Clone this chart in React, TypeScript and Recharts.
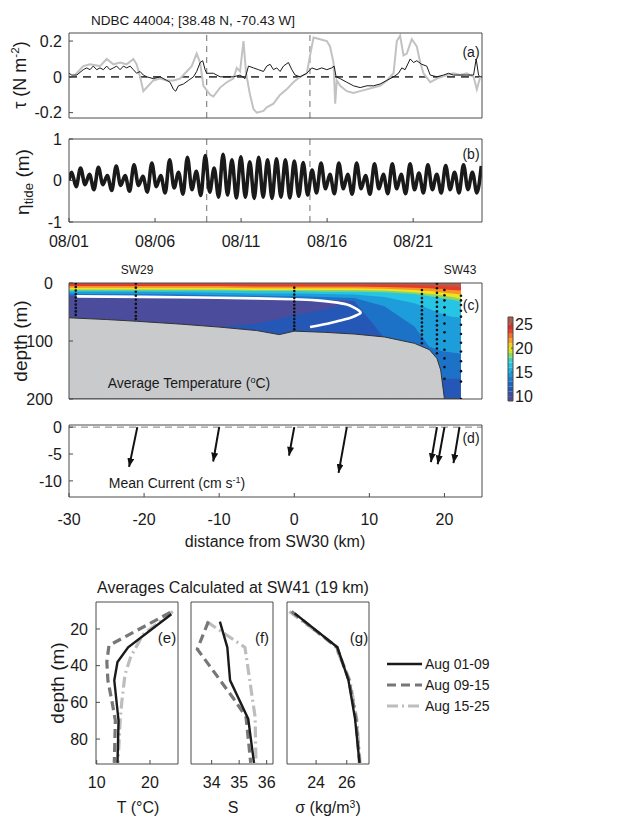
import React from 'react';
import { ComposedChart, Line, Area, Scatter, XAxis, YAxis, ReferenceLine } from 'recharts';

// ---------- (a) wind stress at NDBC 44004, days after 08/01 ----------
const dayTicks = [0, 5, 10, 15, 20];
const dayLabels = ['08/01', '08/06', '08/11', '08/16', '08/21'];
const periodBreaks = [8, 14];

const tauTicks = [-0.2, 0, 0.2];
const tauLabels = ['-0.2', '0', '0.2'];

// grey (larger) stress trace
const gDays = [0.35, 0.83, 1.22, 1.8, 2.19, 2.58, 2.97, 3.35, 3.74, 3.93, 4.13, 4.32, 4.61, 4.9, 5.29, 5.68, 6.07, 6.45, 6.84, 7.13, 7.42, 7.62, 7.81, 8.2, 8.39, 8.78, 9.17, 9.55, 9.75, 9.94, 10.14, 10.29, 10.52, 10.72, 10.91, 11.3, 11.49, 11.88, 12.27, 12.65, 13.04, 13.43, 13.82, 14.01, 14.21, 14.59, 14.98, 15.17, 15.37, 15.47, 15.56, 15.76, 16.14, 16.53, 16.92, 17.31, 17.69, 18.08, 18.47, 18.86, 19.05, 19.24, 19.44, 19.63, 19.92, 20.21, 20.41, 20.6, 20.99, 21.38, 21.96, 22.34, 22.73, 23.12, 23.51, 23.7, 23.9];
const gTau = [0.01, 0.06, 0.07, 0.06, 0.1, 0.07, 0.08, 0.07, 0.1, 0.07, 0.0, -0.08, -0.05, -0.02, -0.01, -0.02, -0.02, -0.01, 0.03, 0.06, 0.13, 0.08, -0.05, -0.1, -0.11, -0.06, -0.03, -0.01, 0.05, 0.03, 0.2, 0.02, -0.1, -0.18, -0.2, -0.19, -0.17, -0.15, -0.1, -0.07, -0.03, 0.0, 0.02, 0.12, 0.22, 0.21, 0.2, 0.17, 0.08, -0.15, -0.02, -0.05, -0.08, -0.09, -0.08, -0.07, -0.06, -0.05, -0.02, 0.02, 0.2, 0.23, 0.12, 0.13, 0.21, 0.17, 0.08, 0.02, -0.03, -0.01, 0.01, 0.02, 0.01, 0.02, 0.0, -0.07, 0.0];

// black stress trace
const bDays = [0, 0.16, 0.45, 0.83, 1.03, 1.22, 1.41, 1.61, 1.8, 2.0, 2.19, 2.38, 2.58, 2.77, 2.97, 3.16, 3.35, 3.55, 3.74, 3.93, 4.13, 4.32, 4.52, 4.9, 5.29, 5.68, 5.87, 6.07, 6.2, 6.36, 6.65, 6.94, 7.23, 7.42, 7.62, 7.77, 7.91, 8.0, 8.39, 8.78, 9.17, 9.55, 9.94, 10.23, 10.43, 10.72, 11.01, 11.3, 11.49, 11.69, 11.88, 12.07, 12.27, 12.46, 12.75, 12.95, 13.14, 13.43, 13.82, 14.11, 14.4, 14.69, 14.98, 15.27, 15.41, 15.52, 15.76, 16.14, 16.53, 16.92, 17.31, 17.69, 18.08, 18.47, 18.86, 19.15, 19.34, 19.53, 19.83, 20.02, 20.21, 20.5, 20.79, 20.99, 21.38, 21.76, 22.05, 22.34, 22.73, 23.12, 23.51, 23.66, 23.8, 23.9];
const bTau = [0.02, 0.01, 0.01, 0.04, 0.05, 0.04, 0.06, 0.04, 0.05, 0.04, 0.06, 0.04, 0.05, 0.06, 0.04, 0.06, 0.05, 0.06, 0.04, 0.02, 0.03, 0.01, 0.0, -0.01, 0.0, -0.02, -0.03, -0.07, -0.08, -0.05, -0.04, -0.02, 0.0, 0.03, 0.08, 0.09, 0.04, 0.02, 0.02, 0.0, 0.0, 0.0, 0.01, -0.01, 0.06, 0.05, 0.04, 0.03, 0.06, 0.07, 0.04, 0.05, 0.03, 0.06, 0.08, 0.04, 0.01, 0.0, 0.02, 0.05, 0.04, 0.05, 0.04, 0.05, 0.06, 0.0, -0.01, -0.03, -0.05, -0.06, -0.05, -0.05, -0.04, -0.02, 0.0, 0.02, 0.05, 0.04, 0.1, 0.08, 0.09, 0.07, 0.06, 0.01, 0.0, 0.01, 0.02, 0.01, 0.01, 0.01, 0.01, 0.1, 0.01, 0.0];

// ---------- (b) tidal elevation: successive highs and lows ----------
const etaTicks = [-1, 0, 1];
const etaLabels = ['-1', '0', '1'];
const tideHigh = [0.2, 0.3, 0.15, 0.32, 0.12, 0.35, 0.12, 0.38, 0.1, 0.42, 0.12, 0.5, 0.2, 0.56, 0.22, 0.6, 0.3, 0.63, 0.5, 0.57, 0.45, 0.56, 0.5, 0.52, 0.5, 0.47, 0.43, 0.25, 0.42, 0.15, 0.42, 0.15, 0.42, 0.12, 0.4, 0.15, 0.4, 0.15, 0.4, 0.18, 0.38, 0.15, 0.36, 0.2, 0.38, 0.2, 0.35];
const tideLow = [-0.15, -0.1, -0.22, -0.1, -0.24, -0.12, -0.26, -0.12, -0.28, -0.15, -0.3, -0.18, -0.33, -0.22, -0.36, -0.28, -0.4, -0.35, -0.42, -0.4, -0.43, -0.4, -0.43, -0.4, -0.42, -0.38, -0.35, -0.3, -0.2, -0.32, -0.2, -0.33, -0.2, -0.33, -0.2, -0.32, -0.2, -0.32, -0.22, -0.3, -0.22, -0.3, -0.22, -0.3, -0.22, -0.3];
const M2 = 12.42 / 24; // semidiurnal period (days)
const firstHigh = 0.155;

// ---------- (c) cross-shelf section ----------
const distTicks = [-30, -20, -10, 0, 10, 20];
const depthTicks = [0, 100, 200];
const secDist = [-30, -25, -21, -15, -10, -5, -2, 0, 4, 8, 12, 16, 18, 19, 19.5, 20, 21, 22.2];
const secBottom = [60, 63, 66, 71, 76, 82, 89, 83, 85, 88, 93, 104, 115, 130, 150, 200, 200, 200];
// depth of the lower edge of each colour band (warm to cold)
const iso24 = [2, 2, 2, 2, 2, 3, 3, 3, 3, 3, 3, 4, 5, 5, 5, 6, 6, 7];
const iso22 = [5, 5, 5, 5, 5, 6, 6, 6, 6, 6, 7, 8, 9, 10, 10, 11, 12, 13];
const iso20 = [8, 8, 8, 8, 8, 9, 9, 9, 9, 9, 10, 12, 14, 15, 16, 17, 18, 20];
const iso19 = [11, 11, 11, 11, 11, 12, 12, 12, 12, 12, 13, 16, 19, 20, 21, 22, 24, 27];
const iso17 = [13, 13, 13, 13, 13, 14, 14, 14, 15, 15, 16, 19, 23, 25, 26, 27, 29, 32];
const iso15 = [15, 15, 15, 16, 17, 18, 18, 18, 19, 20, 24, 35, 45, 50, 52, 55, 58, 60];
const iso13 = [19, 19, 19, 20, 21, 22, 23, 23, 24, 26, 40, 75, 110, 115, 117, 118, 120, 122];
const iso12 = [22, 22, 22, 23, 24, 25, 26, 27, 29, 31, 95, 160, 165, 165, 165, 165, 165, 165];
const coldPoolBase = [60, 63, 66, 71, 76, 70, 62, 55, 46, 31, 95, 160, 165, 165, 165, 165, 165, 165];
const bandEdges = [iso24, iso22, iso20, iso19, iso17, iso15, iso13, iso12, coldPoolBase];
const bandColors = ['#b95a48', '#e63a2a', '#f7952a', '#eee31c', '#8ad46c', '#28c4e4', '#1e9ddb', '#1c72c7', '#4b4c9c', '#2457b6'];

const whiteDist = [-29, -20, -12.5, -5, -0.1, 3, 5.2, 7, 7.9, 8.8, 8.4, 7.5, 6, 4.8, 2.1];
const whiteDepth = [23, 24, 25, 26.5, 28, 30, 33, 37, 42, 50, 55, 60, 65, 69, 76];

const stationDist = [-29.1, -21.1, 0, 17, 19, 20, 22.2];
const stationDepths = [
  [1, 7, 13, 19, 25, 31, 37, 43, 49, 55],
  [1, 8, 15, 22, 29, 36, 43, 50, 57, 62],
  [8, 14, 20, 26, 32, 38, 44, 50, 56, 62, 68, 74, 80],
  [12, 19, 26, 33, 40, 47, 54, 61, 68, 75, 82, 89, 96, 104],
  [1, 9, 17, 25, 33, 41, 49, 57, 65, 73, 81, 89, 97, 105, 113, 121],
  [12, 21, 30, 42, 55, 70, 85, 100, 115, 130, 145, 165],
  [22, 30, 38, 48, 58, 72, 88, 103, 118, 135, 152, 170, 200],
];

const cbarEdges = [9, 10, 11, 12, 13, 14, 15, 16, 17, 18, 19, 20, 21, 22, 23, 24, 25, 26.5];
const cbarColors = ['#4a4a96', '#3a4fa6', '#2457b6', '#1c66c2', '#1a7ecf', '#1c95d9', '#1daee3', '#22c3e6', '#3fd0c0', '#8cd86a', '#d6e41e', '#f5d312', '#f6a21d', '#f27422', '#e8402a', '#d8302a', '#b45a4c'];
const cbarTicks = [10, 15, 20, 25];

// ---------- (d) mean current vectors ----------
const curTicks = [-10, -5, 0];
const arrowX0 = [-20.9, -10, 0, 7, 19, 20, 22];
const arrowX1 = [-22, -10.8, -0.7, 5.9, 18.2, 19.1, 21.2];
const arrowV = [-7.4, -6.4, -5.3, -8.5, -6.5, -6.9, -6.7];

// ---------- (e)-(g) averages at SW41 ----------
const periods = ['Aug 01-09', 'Aug 09-15', 'Aug 15-25'];
const periodColors = ['#1a1a1a', '#777777', '#bdbdbd'];
const periodWidths = [2.4, 3.2, 3.2];
const periodDash = [undefined, '9 5', '11 4 2 4'];

const tempDepths = [[12, 30, 38, 48, 70, 93], [11, 29, 38, 48, 60, 70, 93], [10.5, 23, 35, 45, 60, 70, 93]];
const tempVals = [[24.0, 15.9, 13.9, 13.3, 14.1, 13.9], [23.8, 12.3, 11.9, 12.1, 12.9, 13.5, 13.3], [24.3, 18.7, 16.4, 15.3, 14.7, 14.4, 14.0]];
const salDepths = [[16, 30, 48, 69, 93], [16, 31, 58, 68, 93], [16, 30, 68, 93]];
const salVals = [[34.3, 34.57, 34.67, 35.33, 35.54], [33.88, 33.48, 34.8, 35.25, 35.42], [33.82, 35.21, 35.58, 35.61]];
const sigDepths = [[11.5, 30, 48, 69, 93], [10.5, 30, 48, 69, 93], [10.5, 29, 48, 69, 93]];
const sigVals = [[22.6, 25.39, 26.11, 26.54, 26.83], [22.4, 25.35, 26.15, 26.6, 26.83], [22.25, 25.24, 26.2, 26.65, 26.87]];
const profDepthTicks = [20, 40, 60, 80];

// ---------- layout ----------
const FONT = '"Liberation Sans", Arial, Helvetica, sans-serif';
const AX = '#4a4a4a';
const TXT = '#1a1a1a';
const M = { top: 12, right: 12, bottom: 12, left: 0 };
const tickStyle = (size = 16) => ({ fontSize: size, fill: TXT });
const line = { stroke: AX, strokeWidth: 1 };

// box: plot rectangle in page pixels; yw/yr/xh/xt: sizes of left/right/bottom/top axes
function Panel({ box, yw = 60, yr = 1, xh = 1, xt = 1, data, children }: any) {
  const width = yw + box.w + yr + M.right;
  const height = M.top + xt + box.h + xh + M.bottom;
  return (
    <div style={{ position: 'absolute', left: box.x - yw, top: box.y - xt - M.top }}>
      <ComposedChart width={width} height={height} margin={M} data={data}>
        {children}
      </ComposedChart>
    </div>
  );
}

function boxAxes(xDomain: number[], xTicks: number[], yDomain: number[], yTicks: number[], reversed = false) {
  return [
    <XAxis key="xt" xAxisId="top" orientation="top" type="number" domain={xDomain} ticks={xTicks} height={1}
      tick={false} tickSize={-4} axisLine={line} tickLine={line} allowDataOverflow interval={0} />,
    <YAxis key="yr" yAxisId="right" orientation="right" type="number" domain={yDomain} ticks={yTicks} width={1}
      tick={false} tickSize={-4} axisLine={line} tickLine={line} allowDataOverflow reversed={reversed} interval={0} />,
  ];
}

function Txt({ x, y, size = 16, rot = 0, children }: any) {
  return (
    <div style={{ position: 'absolute', left: x, top: y, fontSize: size, lineHeight: 1, whiteSpace: 'nowrap',
      transform: `translate(-50%, -50%) rotate(${rot}deg)` }}>
      {children}
    </div>
  );
}

const sup = { fontSize: '0.65em', verticalAlign: '0.55em' };
const sub = { fontSize: '0.7em', verticalAlign: '-0.3em' };

const A = { x: 69, y: 33, w: 413, h: 85 };
const B = { x: 69, y: 139, w: 413, h: 83 };
const C = { x: 69, y: 283, w: 413, h: 116 };
const D = { x: 69, y: 425, w: 413, h: 72 };
const CB = { x: 508, y: 317, w: 5, h: 84 };
const E = { x: 96, y: 602, w: 82, h: 162 };
const F = { x: 191, y: 602, w: 82, h: 162 };
const G = { x: 287, y: 602, w: 82, h: 162 };
const profDepthDomain = [5.3, 93.6];

const gRows = gDays.map((t, i) => ({ t, v: gTau[i] }));
const bRows = bDays.map((t, i) => ({ t, v: bTau[i] }));
const tideRows: { t: number; v: number }[] = [{ t: 0, v: 0 }];
tideHigh.forEach((h, i) => {
  tideRows.push({ t: firstHigh + i * M2, v: h });
  if (i < tideLow.length) tideRows.push({ t: firstHigh + (i + 0.5) * M2, v: tideLow[i] });
});
// each row: distance, sea-floor range, and one [0, lower edge] range per colour band
const secRows = secDist.map((x, i) => {
  const row: any = { x, floor: [200, secBottom[i]] };
  bandColors.forEach((_, k) => {
    row['band' + k] = [0, k < bandEdges.length ? bandEdges[k][i] : 200];
  });
  return row;
});
const whiteRows = whiteDist.map((x, i) => ({ x, d: whiteDepth[i] }));
const stationRows = stationDist.flatMap((x, i) => stationDepths[i].map((d) => ({ x, d })));
// colour bar: two columns, one [low, high] range per colour
const cbarRows = [0, 1].map((x) => {
  const row: any = { x };
  cbarColors.forEach((_, i) => {
    row['c' + i] = [cbarEdges[i], cbarEdges[i + 1]];
  });
  return row;
});

function dayFmt(v: number) {
  return dayLabels[dayTicks.indexOf(v)];
}

function Profile({ box, domain, ticks, depths, vals, showDepth }: any) {
  const yw = showDepth ? 40 : 1;
  return (
    <Panel box={box} yw={yw} xh={30}>
      <XAxis type="number" dataKey="v" domain={domain} ticks={ticks} height={30} tick={tickStyle(16)} tickSize={-4}
        tickMargin={17} axisLine={line} tickLine={line} allowDataOverflow interval={0} />
      <YAxis type="number" domain={profDepthDomain} ticks={profDepthTicks} reversed width={yw}
        tick={showDepth ? tickStyle(16) : false} tickSize={-4} tickMargin={12} axisLine={line} tickLine={line}
        allowDataOverflow interval={0} />
      {boxAxes(domain, ticks, profDepthDomain, profDepthTicks, true)}
      {[2, 1, 0].map((k) => (
        <Line key={k} data={depths[k].map((d: number, i: number) => ({ v: vals[k][i], d }))} dataKey="d"
          type="linear" stroke={periodColors[k]} strokeWidth={periodWidths[k]} strokeDasharray={periodDash[k]}
          dot={false} isAnimationActive={false} />
      ))}
    </Panel>
  );
}

export default function App() {
  return (
    <div style={{ position: 'absolute', left: 0, top: 0, width: 640, height: 821, background: '#fff',
      fontFamily: FONT, color: TXT, overflow: 'hidden' }}>
      <svg width={0} height={0} style={{ position: 'absolute' }}>
        <defs>
          <marker id="arrowHead" viewBox="0 0 10 8" refX="10" refY="4" markerWidth="9" markerHeight="7"
            markerUnits="userSpaceOnUse" orient="auto">
            <path d="M0,0 L10,4 L0,8 Z" fill="#111" />
          </marker>
        </defs>
      </svg>

      {/* (a) wind stress */}
      <Panel box={A}>
        <XAxis type="number" dataKey="t" domain={[0, 24]} ticks={dayTicks} height={1} tick={false} tickSize={-4}
          axisLine={line} tickLine={line} allowDataOverflow interval={0} />
        <YAxis type="number" domain={[-0.23, 0.245]} ticks={tauTicks} width={60} tick={tickStyle(16)} tickSize={-4}
          tickMargin={11} axisLine={line} tickLine={line} allowDataOverflow interval={0}
          tickFormatter={(v: number) => tauLabels[tauTicks.indexOf(v)]} />
        {boxAxes([0, 24], dayTicks, [-0.23, 0.245], tauTicks)}
        {periodBreaks.map((d) => (
          <ReferenceLine key={d} x={d} stroke="#888" strokeDasharray="6 5" strokeWidth={1.2} />
        ))}
        <ReferenceLine y={0} stroke="#444" strokeDasharray="8 6" strokeWidth={1.6} />
        <Line data={gRows} dataKey="v" type="linear" stroke="#c2c2c2" strokeWidth={2} dot={false} isAnimationActive={false} />
        <Line data={bRows} dataKey="v" type="linear" stroke="#1a1a1a" strokeWidth={1} dot={false} isAnimationActive={false} />
      </Panel>

      {/* (b) tide */}
      <Panel box={B} xh={30}>
        <XAxis type="number" dataKey="t" domain={[0, 24]} ticks={dayTicks} height={30} tick={tickStyle(16)} tickSize={-4}
          tickMargin={18} axisLine={line} tickLine={line} allowDataOverflow interval={0} tickFormatter={dayFmt} />
        <YAxis type="number" domain={[-1, 1]} ticks={etaTicks} width={60} tick={tickStyle(16)} tickSize={-4}
          tickMargin={11} axisLine={line} tickLine={line} allowDataOverflow interval={0}
          tickFormatter={(v: number) => etaLabels[etaTicks.indexOf(v)]} />
        {boxAxes([0, 24], dayTicks, [-1, 1], etaTicks)}
        {periodBreaks.map((d) => (
          <ReferenceLine key={d} x={d} stroke="#888" strokeDasharray="6 5" strokeWidth={1.2} />
        ))}
        <Line data={tideRows} dataKey="v" type="monotone" stroke="#1a1a1a" strokeWidth={3.6} dot={false} isAnimationActive={false} />
      </Panel>

      {/* (c) average temperature section */}
      <Panel box={C} data={secRows}>
        <XAxis type="number" dataKey="x" domain={[-30, 25]} ticks={distTicks} height={1} tick={false} tickSize={-4}
          axisLine={line} tickLine={line} allowDataOverflow interval={0} />
        <YAxis type="number" domain={[0, 200]} ticks={depthTicks} reversed width={60} tick={tickStyle(16)} tickSize={-4}
          tickMargin={20} axisLine={line} tickLine={line} allowDataOverflow interval={0} />
        {boxAxes([-30, 25], distTicks, [0, 200], depthTicks, true)}
        {bandColors.map((_, j) => {
          const k = bandColors.length - 1 - j;
          return (
            <Area key={k} dataKey={'band' + k} type="linear" stroke="none" fill={bandColors[k]} fillOpacity={1}
              isAnimationActive={false} />
          );
        })}
        <Area dataKey="floor" type="linear" stroke="#333" strokeWidth={1} fill="#c9cacc" fillOpacity={1}
          isAnimationActive={false} />
        <Line data={whiteRows} dataKey="d" type="natural" stroke="#fff" strokeWidth={2.6} dot={false} isAnimationActive={false} />
        <Scatter data={stationRows} dataKey="d" isAnimationActive={false}
          shape={(p: any) => <circle cx={p.cx} cy={p.cy} r={1.3} fill="#111" />} />
      </Panel>

      {/* colour bar */}
      <Panel box={CB} yw={1} yr={30} data={cbarRows}>
        <XAxis type="number" dataKey="x" domain={[0, 1]} height={1} tick={false} tickLine={false} axisLine={line}
          allowDataOverflow />
        <XAxis xAxisId="top" orientation="top" type="number" domain={[0, 1]} height={1} tick={false} tickLine={false}
          axisLine={line} allowDataOverflow />
        <YAxis type="number" domain={[9, 26.5]} width={1} tick={false} tickLine={false} axisLine={line} allowDataOverflow />
        <YAxis yAxisId="cb" orientation="right" type="number" domain={[9, 26.5]} ticks={cbarTicks} width={30}
          tick={tickStyle(16)} tickSize={-2} tickMargin={4} axisLine={line} tickLine={line} allowDataOverflow interval={0} />
        {cbarColors.map((c, i) => (
          <Area key={i} dataKey={'c' + i} type="linear" stroke="none" fill={c} fillOpacity={1} isAnimationActive={false} />
        ))}
      </Panel>

      {/* (d) mean current */}
      <Panel box={D} xh={30}>
        <XAxis type="number" dataKey="x" domain={[-30, 25]} ticks={distTicks} height={30} tick={tickStyle(16)}
          tickSize={-4} tickMargin={21} axisLine={line} tickLine={line} allowDataOverflow interval={0} />
        <YAxis type="number" domain={[-13, 0.4]} ticks={curTicks} width={60} tick={tickStyle(16)} tickSize={-4}
          tickMargin={11} axisLine={line} tickLine={line} allowDataOverflow interval={0} />
        {boxAxes([-30, 25], distTicks, [-13, 0.4], curTicks)}
        <ReferenceLine y={0} stroke="#999" strokeDasharray="7 5" strokeWidth={1.3} />
        {arrowX0.map((x0, i) => (
          <Line key={i} data={[{ x: x0, v: 0 }, { x: arrowX1[i], v: arrowV[i] }]} dataKey="v" type="linear"
            stroke="#111" strokeWidth={2} dot={false} isAnimationActive={false} markerEnd="url(#arrowHead)" />
        ))}
      </Panel>

      {/* (e)-(g) */}
      <Profile box={E} domain={[9.87, 25.25]} ticks={[10, 20]} depths={tempDepths} vals={tempVals} showDepth />
      <Profile box={F} domain={[33.25, 36.23]} ticks={[34, 35, 36]} depths={salDepths} vals={salVals} />
      <Profile box={G} domain={[22.1, 27.45]} ticks={[24, 26]} depths={sigDepths} vals={sigVals} />

      <div style={{ position: 'absolute', left: 386, top: 653 }}>
        {periods.map((p, i) => (
          <div key={p} style={{ display: 'flex', alignItems: 'center', height: 21 }}>
            <svg width={38} height={10}>
              <line x1={1} y1={5} x2={36} y2={5} stroke={periodColors[i]} strokeWidth={periodWidths[i]}
                strokeDasharray={periodDash[i]} />
            </svg>
            <span style={{ fontSize: 14, marginLeft: 1 }}>{p}</span>
          </div>
        ))}
      </div>

      {/* text */}
      <Txt x={193} y={21} size={13.5}>NDBC 44004; [38.48 N, -70.43 W]</Txt>
      <Txt x={19} y={75} size={18} rot={-90}>τ (N m<span style={sup}>-2</span>)</Txt>
      <Txt x={24} y={182} size={19} rot={-90}>η<span style={sub}>tide</span> (m)</Txt>
      <Txt x={20} y={341} size={19} rot={-90}>depth (m)</Txt>
      <Txt x={57} y={683} size={19} rot={-90}>depth (m)</Txt>
      <Txt x={471} y={52} size={14}>(a)</Txt>
      <Txt x={471} y={154} size={14}>(b)</Txt>
      <Txt x={471} y={305} size={14}>(c)</Txt>
      <Txt x={471} y={438} size={14}>(d)</Txt>
      <Txt x={137} y={270} size={12}>SW29</Txt>
      <Txt x={460} y={270} size={12}>SW43</Txt>
      <Txt x={189} y={383} size={14}>Average Temperature (<span style={sup}>o</span>C)</Txt>
      <Txt x={177} y={483} size={14}>Mean Current (cm s<span style={sup}>-1</span>)</Txt>
      <Txt x={275} y={542} size={16}>distance from SW30 (km)</Txt>
      <Txt x={233} y={588} size={16}>Averages Calculated at SW41 (19 km)</Txt>
      <Txt x={167} y={637} size={15}>(e)</Txt>
      <Txt x={262} y={637} size={15}>(f)</Txt>
      <Txt x={359} y={637} size={15}>(g)</Txt>
      <Txt x={138} y={808} size={16}>T (°C)</Txt>
      <Txt x={233} y={808} size={16}>S</Txt>
      <Txt x={328} y={808} size={16}>σ (kg/m<span style={sup}>3</span>)</Txt>
    </div>
  );
}
